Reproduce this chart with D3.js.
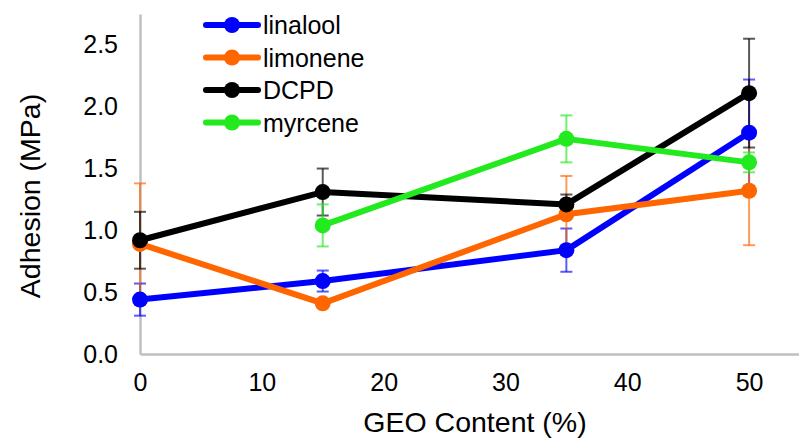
<!DOCTYPE html>
<html>
<head>
<meta charset="utf-8">
<script src="https://cdn.jsdelivr.net/npm/d3@7"></script>
<style>
  body { margin: 0; background: #fff; }
  svg { display: block; font-family: "Liberation Sans", Arial, sans-serif; }
</style>
</head>
<body>
<svg id="chart" width="799" height="438"></svg>
<script>
// GEO content (%)
var geo = [0, 15, 35, 50]
var seriesNames = ['linalool', 'limonene', 'DCPD', 'myrcene']
var seriesColors = ['#0000ff', '#ff6600', '#000000', '#22ea1e']
// adhesion (MPa), null = no point
var linalool = [0.44, 0.59, 0.84, 1.79]
var limonene = [0.89, 0.41, 1.13, 1.32]
var dcpd = [0.92, 1.31, 1.21, 2.11]
var myrcene = [null, 1.04, 1.74, 1.55]
// error bar half widths
var linaloolErr = [0.13, 0.085, 0.175, 0.43]
var limoneneErr = [0.49, 0.02, 0.31, 0.44]
var dcpdErr = [0.23, 0.19, 0.08, 0.44]
var myrceneErr = [null, 0.17, 0.19, 0.08]
var yTicks = [0, 0.5, 1.0, 1.5, 2.0, 2.5]
var xTicks = [0, 10, 20, 30, 40, 50]

var values = [linalool, limonene, dcpd, myrcene]
var errs = [linaloolErr, limoneneErr, dcpdErr, myrceneErr]
var series = seriesNames.map(function (name, i) {
    return {
        name: name,
        color: seriesColors[i],
        points: geo.map(function (g, j) {
            return { x: g, y: values[i][j], e: errs[i][j] }
        }).filter(function (p) { return p.y != null })
    }
})

var svg = d3.select('#chart')
var xscale = d3.scaleLinear().domain([0, 55]).range([140, 810])
var yscale = d3.scaleLinear().domain([0, 2.75]).range([354, 14])

// axes (grey lines, no tick marks)
svg.append('g')
    .attr('transform', 'translate(0,' + yscale(0) + ')')
    .call(d3.axisBottom(xscale).tickValues(xTicks).tickSize(0).tickPadding(19))
    .call(function (g) {
        g.select('.domain').attr('stroke', '#bfbfbf').attr('stroke-width', 2.5)
        g.selectAll('text').attr('font-size', 25).attr('fill', '#000').attr('font-family', null)
    })
svg.append('g')
    .attr('transform', 'translate(' + xscale(0) + ',0)')
    .call(d3.axisLeft(yscale).tickValues(yTicks).tickFormat(d3.format('.1f')).tickSize(0).tickPadding(22))
    .call(function (g) {
        g.select('.domain').attr('stroke', '#bfbfbf').attr('stroke-width', 2.5)
        g.selectAll('text').attr('font-size', 25).attr('fill', '#000').attr('font-family', null)
    })

svg.append('text').text('GEO Content (%)')
    .attr('x', 475).attr('y', 432)
    .attr('text-anchor', 'middle').attr('font-size', 28.5)
svg.append('text').text('Adhesion (MPa)')
    .attr('transform', 'translate(40,196) rotate(-90)')
    .attr('text-anchor', 'middle').attr('font-size', 28.5)

// error bars first, behind lines
var errG = svg.append('g')
series.forEach(function (s) {
    s.points.forEach(function (p) {
        var cx = xscale(p.x)
        var y1 = yscale(p.y + p.e), y2 = yscale(p.y - p.e)
        var g = errG.append('g').attr('stroke', s.color).attr('stroke-opacity', 0.65).attr('stroke-width', 2)
        g.append('line').attr('x1', cx).attr('x2', cx).attr('y1', y1).attr('y2', y2)
        g.append('line').attr('x1', cx - 6).attr('x2', cx + 6).attr('y1', y1).attr('y2', y1)
        g.append('line').attr('x1', cx - 6).attr('x2', cx + 6).attr('y1', y2).attr('y2', y2)
    })
})

var line = d3.line()
    .x(function (d) { return xscale(d.x) })
    .y(function (d) { return yscale(d.y) })

series.forEach(function (s) {
    var g = svg.append('g')
    g.append('path')
        .attr('d', line(s.points))
        .attr('fill', 'none')
        .attr('stroke', s.color)
        .attr('stroke-width', 6)
        .attr('stroke-linejoin', 'round')
    g.selectAll('circle').data(s.points).enter()
        .append('circle')
        .attr('cx', function (d) { return xscale(d.x) })
        .attr('cy', function (d) { return yscale(d.y) })
        .attr('r', 8)
        .attr('fill', s.color)
})

// legend
var legend = svg.append('g')
series.forEach(function (s, i) {
    var ly = 25 + i * 32.5
    legend.append('line').attr('x1', 206).attr('x2', 258).attr('y1', ly).attr('y2', ly)
        .attr('stroke', s.color).attr('stroke-width', 6).attr('stroke-linecap', 'round')
    legend.append('circle').attr('cx', 232).attr('cy', ly).attr('r', 8).attr('fill', s.color)
    legend.append('text').text(s.name).attr('x', 263).attr('y', ly + 9).attr('font-size', 25)
})
</script>
</body>
</html>
